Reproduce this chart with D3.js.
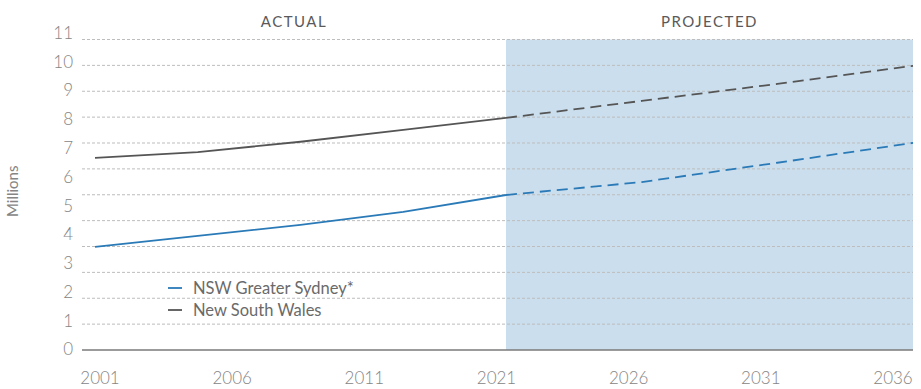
<!DOCTYPE html>
<html>
<head>
<meta charset="utf-8">
<script src="https://cdn.jsdelivr.net/npm/d3@7"></script>
<style>
  body { margin: 0; background: #fff; }
  svg { display: block; font-family: Lato, "Open Sans", sans-serif; }
</style>
</head>
<body>
<div id="chart"></div>
<script>
const width = 921,
  height = 389;

// values in millions
const actualYears = [2001, 2006, 2011, 2016, 2021];
const nswActual = [6.66, 6.86, 7.22, 7.63, 8.05];
const sydneyActual = [3.57, 3.95, 4.33, 4.78, 5.37];

const projYears = [2021, 2026, 2031, 2036];
const nswProj = [8.05, 8.64, 9.23, 9.86];
const sydneyProj = [5.37, 5.82, 6.49, 7.18];

const xTickLabels = ['2001', '2006', '2011', '2021', '2026', '2031', '2036'];
const yTicks = [0, 1, 2, 3, 4, 5, 6, 7, 8, 9, 10, 11];
const gridSteps = [1, 2, 3, 4, 5, 6, 7, 8, 9, 10, 11, 12];

const seriesNames = ['NSW Greater Sydney*', 'New South Wales'];
const seriesColors = ['#2a7ab8', '#555555'];

const plotLeft = 82, plotRight = 913;

// actual and projected periods take different widths on the chart
const x = d3.scaleLinear()
  .domain([2001, 2021, 2036])
  .range([95, 506, plotRight]);

const y = d3.scaleLinear()
  .domain([0, 11])
  .range([349.5, 33]);

// gridlines run on their own spacing, 12 lines up to the top of the panel
const yGrid = d3.scaleLinear()
  .domain([0, 12])
  .range([350, 39.5]);

const xLabel = d3.scalePoint()
  .domain(xTickLabels)
  .range([100, 893]);

const svg = d3.select('#chart').append('svg')
  .attr('width', width)
  .attr('height', height);

// projected shading
svg.append('rect')
  .attr('x', x(2021))
  .attr('y', yGrid(12))
  .attr('width', x(2036) - x(2021))
  .attr('height', yGrid(0) - yGrid(12))
  .attr('fill', '#cbdeed');

// dotted gridlines
svg.append('g')
  .selectAll('line')
  .data(gridSteps)
  .join('line')
  .attr('x1', plotLeft)
  .attr('x2', plotRight)
  .attr('y1', d => yGrid(d))
  .attr('y2', d => yGrid(d))
  .attr('stroke', '#bdbdbd')
  .attr('stroke-width', 1)
  .attr('stroke-dasharray', '3,2');

// baseline
svg.append('line')
  .attr('x1', plotLeft)
  .attr('x2', plotRight)
  .attr('y1', yGrid(0))
  .attr('y2', yGrid(0))
  .attr('stroke', '#7a7a7a')
  .attr('stroke-width', 1.5);

// y tick labels
svg.append('g')
  .selectAll('text')
  .data(yTicks)
  .join('text')
  .attr('x', 73)
  .attr('y', d => y(d))
  .attr('dy', '0.35em')
  .attr('text-anchor', 'end')
  .attr('font-size', 17)
  .attr('font-weight', 300)
  .attr('fill', '#858585')
  .text(d => d);

// x tick labels
svg.append('g')
  .selectAll('text')
  .data(xTickLabels)
  .join('text')
  .attr('x', d => xLabel(d))
  .attr('y', 384)
  .attr('text-anchor', 'middle')
  .attr('font-size', 17)
  .attr('font-weight', 300)
  .attr('fill', '#858585')
  .text(d => d);

svg.append('text')
  .attr('transform', `translate(18,${y(5.5)}) rotate(-90)`)
  .attr('text-anchor', 'middle')
  .attr('font-size', 15)
  .attr('fill', '#858585')
  .text('Millions');

// period headers
svg.append('text')
  .attr('x', (plotLeft + x(2021)) / 2)
  .attr('y', 27)
  .attr('text-anchor', 'middle')
  .attr('font-size', 15)
  .attr('letter-spacing', 1.5)
  .attr('fill', '#5a5a5a')
  .text('ACTUAL');

svg.append('text')
  .attr('x', (x(2021) + x(2036)) / 2)
  .attr('y', 27)
  .attr('text-anchor', 'middle')
  .attr('font-size', 15)
  .attr('letter-spacing', 1.5)
  .attr('fill', '#5a5a5a')
  .text('PROJECTED');

const line = d3.line()
  .x(d => x(d[0]))
  .y(d => y(d[1]));

const series = [
  { actual: sydneyActual, proj: sydneyProj, color: seriesColors[0] },
  { actual: nswActual, proj: nswProj, color: seriesColors[1] }
];

series.forEach(s => {
  svg.append('path')
    .attr('d', line(actualYears.map((yr, i) => [yr, s.actual[i]])))
    .attr('fill', 'none')
    .attr('stroke', s.color)
    .attr('stroke-width', 1.8);

  svg.append('path')
    .attr('d', line(projYears.map((yr, i) => [yr, s.proj[i]])))
    .attr('fill', 'none')
    .attr('stroke', s.color)
    .attr('stroke-width', 1.8)
    .attr('stroke-dasharray', '11,6');
});

// legend
const legend = svg.append('g')
  .selectAll('g')
  .data(seriesNames)
  .join('g')
  .attr('transform', (d, i) => `translate(168,${288 + i * 22})`);

legend.append('line')
  .attr('x1', 0)
  .attr('x2', 14)
  .attr('stroke', (d, i) => seriesColors[i])
  .attr('stroke-width', 1.8);

legend.append('text')
  .attr('x', 25)
  .attr('dy', '0.35em')
  .attr('font-size', 16.5)
  .attr('fill', '#6a6a6a')
  .text(d => d);
</script>
</body>
</html>
